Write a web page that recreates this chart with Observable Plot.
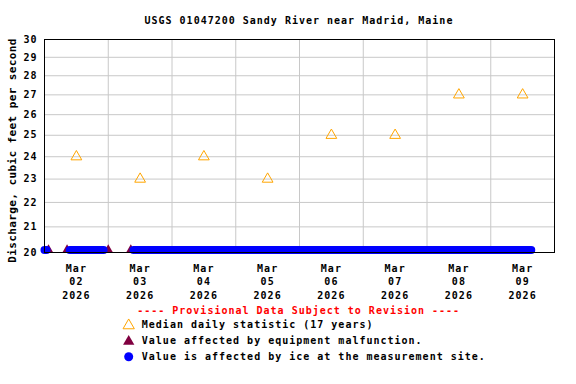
<!DOCTYPE html>
<html><head><meta charset="utf-8">
<script src="https://cdn.jsdelivr.net/npm/d3@7"></script>
<script src="https://cdn.jsdelivr.net/npm/@observablehq/plot@0.6"></script>
<style>
html,body{margin:0;padding:0;background:#fff;}
body{width:576px;height:384px;position:relative;overflow:hidden;font-family:"DejaVu Sans Mono",monospace;font-weight:bold;font-size:10px;letter-spacing:1px;color:#000;}
.t{position:absolute;line-height:12px;white-space:pre;}
#chart{position:absolute;left:0;top:30px;}
#legsym{position:absolute;left:0;top:300px;}
</style></head><body>
<div id="title" class="t" style="left:144.5px;top:15.2px"></div>
<div id="chart"></div>
<div id="prov" class="t" style="left:137.2px;top:305px;color:#ff0000"></div>
<div id="leg1" class="t" style="left:141.8px;top:319.2px"></div>
<div id="leg2" class="t" style="left:141.8px;top:334.8px"></div>
<div id="leg3" class="t" style="left:141.8px;top:350.8px"></div>
<svg id="legsym" width="576" height="84"></svg>
<script>
// ---- data ----
const titleText = "USGS 01047200 Sandy River near Madrid, Maine";
const yLabel = "Discharge, cubic feet per second";
const provisionalText = "---- Provisional Data Subject to Revision ----";
const legendTexts = [
  "Median daily statistic (17 years)",
  "Value affected by equipment malfunction.",
  "Value is affected by ice at the measurement site."
];
const xDomain = ["2026-03-02T00:00:00Z", "2026-03-10T00:00:00Z"];
const yDomain = [20, 30];
const yTicks = [20, 21, 22, 23, 24, 25, 26, 27, 28, 29, 30];
const tickDates = ["2026-03-02T12:00:00Z","2026-03-03T12:00:00Z","2026-03-04T12:00:00Z","2026-03-05T12:00:00Z",
                   "2026-03-06T12:00:00Z","2026-03-07T12:00:00Z","2026-03-08T12:00:00Z","2026-03-09T12:00:00Z"];
const tickLabels = ["Mar\n02\n2026","Mar\n03\n2026","Mar\n04\n2026","Mar\n05\n2026",
                    "Mar\n06\n2026","Mar\n07\n2026","Mar\n08\n2026","Mar\n09\n2026"];
const gridDates = ["2026-03-03T00:00:00Z","2026-03-04T00:00:00Z","2026-03-05T00:00:00Z","2026-03-06T00:00:00Z",
                   "2026-03-07T00:00:00Z","2026-03-08T00:00:00Z","2026-03-09T00:00:00Z"];
const medianDates = tickDates;
const medianValues = [24, 23, 24, 23, 25, 25, 27, 27];
// ice-affected discharge record (continuous runs of 15-minute values)
const iceStart = ["2026-03-02T00:00:00Z","2026-03-02T09:30:00Z","2026-03-03T09:30:00Z","2026-03-08T02:15:00Z"];
const iceEnd   = ["2026-03-02T00:45:00Z","2026-03-02T22:15:00Z","2026-03-08T01:45:00Z","2026-03-09T15:15:00Z"];
const iceValues = [20.1, 20.1, 20.1, 20.1];
const malfunctionTimes = ["2026-03-02T01:30:00Z","2026-03-02T08:30:00Z","2026-03-03T00:00:00Z","2026-03-03T08:30:00Z"];
const malfunctionValues = [20.1, 20.1, 20.1, 20.1];

// ---- build ----
const P = s => new Date(s);
const median = medianDates.map((d, i) => ({t: P(d), v: medianValues[i]}));
const ice = iceStart.map((d, i) => ({t1: P(d), t2: P(iceEnd[i]), v: iceValues[i]}));
const malf = malfunctionTimes.map((d, i) => ({t: P(d), v: malfunctionValues[i]}));
const labelByTime = new Map(tickDates.map((d, i) => [+P(d), tickLabels[i]]));

const plot = Plot.plot({
  width: 576, height: 270,
  marginTop: 9, marginBottom: 48, marginLeft: 44, marginRight: 22,
  style: {fontFamily: '"DejaVu Sans Mono", monospace', fontWeight: "bold", fontSize: "10px", letterSpacing: "1px", background: "white", color: "black"},
  x: {type: "utc", domain: xDomain.map(P)},
  y: {type: "log", domain: yDomain},
  marks: [
    Plot.gridX(gridDates.map(P), {stroke: "#c8c8c8", strokeOpacity: 1}),
    Plot.gridY(yTicks.slice(1, -1), {stroke: "#c8c8c8", strokeOpacity: 1}),
    Plot.dot(malf, {x: "t", y: "v", symbol: "triangle", r: 3.6, fill: "#800040", stroke: "none"}),
    Plot.link(ice, {x1: "t1", y1: "v", x2: "t2", y2: "v", stroke: "#0000ff", strokeWidth: 8, strokeLinecap: "round"}),
    Plot.dot(median, {x: "t", y: "v", symbol: "triangle", r: 4, stroke: "#ffa500", fill: "none", strokeWidth: 1}),
    Plot.frame({stroke: "black", strokeWidth: 1}),
    Plot.axisX(tickDates.map(P), {tickSize: 0, tickPadding: 10, tickFormat: d => labelByTime.get(+d), lineHeight: 1.33, label: null}),
    Plot.axisY(yTicks, {tickSize: 0, tickPadding: 7, tickFormat: d => String(d), label: null}),
    Plot.text([yLabel], {frameAnchor: "left", rotate: -90, dx: -32.2, dy: 4.5, text: d => d, fontSize: 11, textAnchor: "middle", lineAnchor: "middle"})
  ]
});
d3.select(plot).selectAll("text").filter(function() { return this.textContent === yLabel; })
  .style("letter-spacing", "0.4px");
document.getElementById("chart").appendChild(plot);

document.getElementById("title").textContent = titleText;
document.getElementById("prov").textContent = provisionalText;
["leg1","leg2","leg3"].forEach((id, i) => document.getElementById(id).textContent = legendTexts[i]);

// legend symbols
const ls = d3.select("#legsym");
const tri = d3.symbol(d3.symbolTriangle, Math.PI * 4.2 * 4.2)();
ls.append("path").attr("d", tri).attr("transform", "translate(128.7,25.5)").attr("fill", "none").attr("stroke", "#ffa500").attr("stroke-width", 1);
ls.append("path").attr("d", tri).attr("transform", "translate(128.7,41.5)").attr("fill", "#800040");
ls.append("circle").attr("cx", 128.7).attr("cy", 56.7).attr("r", 4.5).attr("fill", "#0000ff");
</script>
</body></html>
